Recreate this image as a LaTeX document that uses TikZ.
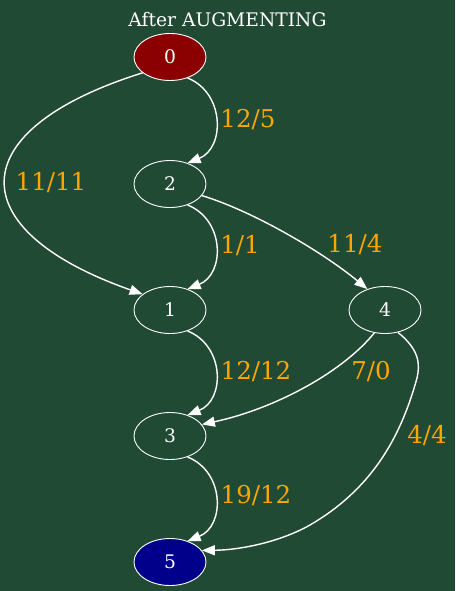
\documentclass[tikz,border=0pt]{standalone}
\usepackage{fontspec}
\setmainfont{DejaVu Serif}
\usetikzlibrary{arrows.meta,shapes.geometric}
\definecolor{bg}{RGB}{33,74,53}
\definecolor{lbl}{RGB}{255,165,0}
\definecolor{dred}{RGB}{139,0,0}
\definecolor{dblue}{RGB}{0,0,139}
\tikzset{
  vert/.style={ellipse, draw=white, line width=0.9pt, minimum width=72pt, minimum height=47pt, inner sep=0pt, text=white, font=\fontsize{18.7}{20}\selectfont},
  edge/.style={draw=white, line width=1.4pt, -{Triangle[length=13pt,width=10pt]}},
  elab/.style={text=lbl, font=\fontsize{24.5}{26}\selectfont, inner sep=0pt},
}
\begin{document}
\begin{tikzpicture}[x=1pt,y=-1pt]
\fill[bg] (0,0) rectangle (455,591);
\useasboundingbox (0,0) rectangle (455,591);
\node[text=white, font=\fontsize{18.7}{20}\selectfont] (title) at (227.5,20) {After AUGMENTING};
\node[vert, fill=dred] (n0) at (170,57) {0};
\node[vert] (n2) at (170,184) {2};
\node[vert] (n1) at (170,310) {1};
\node[vert] (n4) at (385,310) {4};
\node[vert] (n3) at (170,436) {3};
\node[vert, fill=dblue] (n5) at (170,562) {5};

\draw[edge] (n0.-50) .. controls (225,93) and (225,148) .. (n2.50);
\draw[edge] (n0.-150) .. controls (-40,130) and (-40,230) .. (n1.150);
\draw[edge] (n2.-50) .. controls (225,220) and (225,274) .. (n1.50);
\draw[edge] (n2.-20) .. controls (250,210) and (320,250) .. (n4.130);
\draw[edge] (n1.-50) .. controls (225,346) and (225,400) .. (n3.50);
\draw[edge] (n4.-115) .. controls (340,375) and (270,410) .. (n3.20);
\draw[edge] (n4.-60) .. controls (420,350) and (420,365) .. (417,378) .. controls (400,440) and (370,490) .. (310,525) .. controls (280,542) and (240,550) .. (n5.20);
\draw[edge] (n3.-50) .. controls (225,472) and (225,526) .. (n5.50);

\node[elab] (l02) at (248,120) {12/5};
\node[elab] (l01) at (51,183) {11/11};
\node[elab] (l21) at (240,246) {1/1};
\node[elab] (l24) at (355,245) {11/4};
\node[elab] (l13) at (256,372) {12/12};
\node[elab] (l43) at (371,372) {7/0};
\node[elab] (l45) at (427,436) {4/4};
\node[elab] (l35) at (256,496) {19/12};
\end{tikzpicture}
\end{document}
